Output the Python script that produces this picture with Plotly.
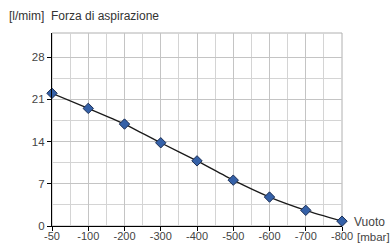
import plotly.graph_objects as go

categories = ["-50", "-100", "-200", "-300", "-400", "-500", "-600", "-700", "-800"]
flow = [22.0, 19.5, 16.9, 13.8, 10.8, 7.6, 4.8, 2.6, 0.8]
y_ticks = [0, 7, 14, 21, 28]
y_minor = [3.5, 10.5, 17.5, 24.5]

xpos = list(range(len(categories)))
x_minor = [i + 0.5 for i in xpos[:-1]]

FONT = "Liberation Sans, Arial, sans-serif"

fig = go.Figure()
fig.add_trace(go.Scatter(
    x=xpos, y=flow, mode="lines+markers",
    line=dict(color="#1a1a1a", width=1.3, shape="spline", smoothing=0.6),
    marker=dict(symbol="diamond", size=8, color="#3561a8",
                line=dict(color="#1c2f55", width=1)),
    cliponaxis=False, showlegend=False,
))

fig.update_layout(
    width=390, height=243, autosize=False,
    margin=dict(l=52, r=48, t=33, b=17, autoexpand=False),
    paper_bgcolor="white", plot_bgcolor="white",
    font=dict(family=FONT, size=12, color="#444"),
    shapes=[dict(type="rect", xref="x domain", yref="y domain", x0=0, x1=1, y0=0, y1=1,
                 line=dict(color="#b0b0b0", width=1), layer="below")],
    annotations=[
        dict(text="[l/mim]\u00a0\u00a0Forza di aspirazione", xref="paper", yref="paper",
             x=-0.155, y=1.088, xanchor="left", yanchor="middle", showarrow=False,
             font=dict(size=12, color="#333")),
        dict(text="Vuoto", xref="paper", yref="paper", x=1.036, y=0.02,
             xanchor="left", yanchor="middle", showarrow=False,
             font=dict(size=12, color="#444")),
        dict(text="[mbar]", xref="paper", yref="paper", x=1.044, y=-0.057,
             xanchor="left", yanchor="middle", showarrow=False,
             font=dict(size=11.5, color="#444")),
    ],
)

fig.update_xaxes(
    range=[0, len(categories) - 1], tickmode="array", tickvals=xpos, ticktext=categories,
    showline=True, linecolor="#000", linewidth=1.3, automargin=False,
    ticks="outside", ticklen=4, tickcolor="#000", tickwidth=1,
    tickfont=dict(size=11, color="#444"), ticklabelstandoff=-4,
    showgrid=True, gridcolor="#c4c4c4", gridwidth=1, zeroline=False,
    minor=dict(tickmode="array", tickvals=x_minor, showgrid=True, gridcolor="#d4d4d4", gridwidth=1, ticks=""),
    fixedrange=True,
)
fig.update_yaxes(
    range=[0, 32], tickmode="array", tickvals=y_ticks,
    showline=True, linecolor="#000", linewidth=1.3, automargin=False,
    ticks="outside", ticklen=4, tickcolor="#000", tickwidth=1,
    tickfont=dict(size=11.5, color="#444"),
    showgrid=True, gridcolor="#c4c4c4", gridwidth=1, zeroline=False,
    minor=dict(tickmode="array", tickvals=y_minor, showgrid=True, gridcolor="#d4d4d4", gridwidth=1, ticks=""),
    fixedrange=True,
)

fig.write_html("out.html", config={"displayModeBar": False},
               post_script="document.body.style.margin='0';document.body.style.overflow='hidden';")
